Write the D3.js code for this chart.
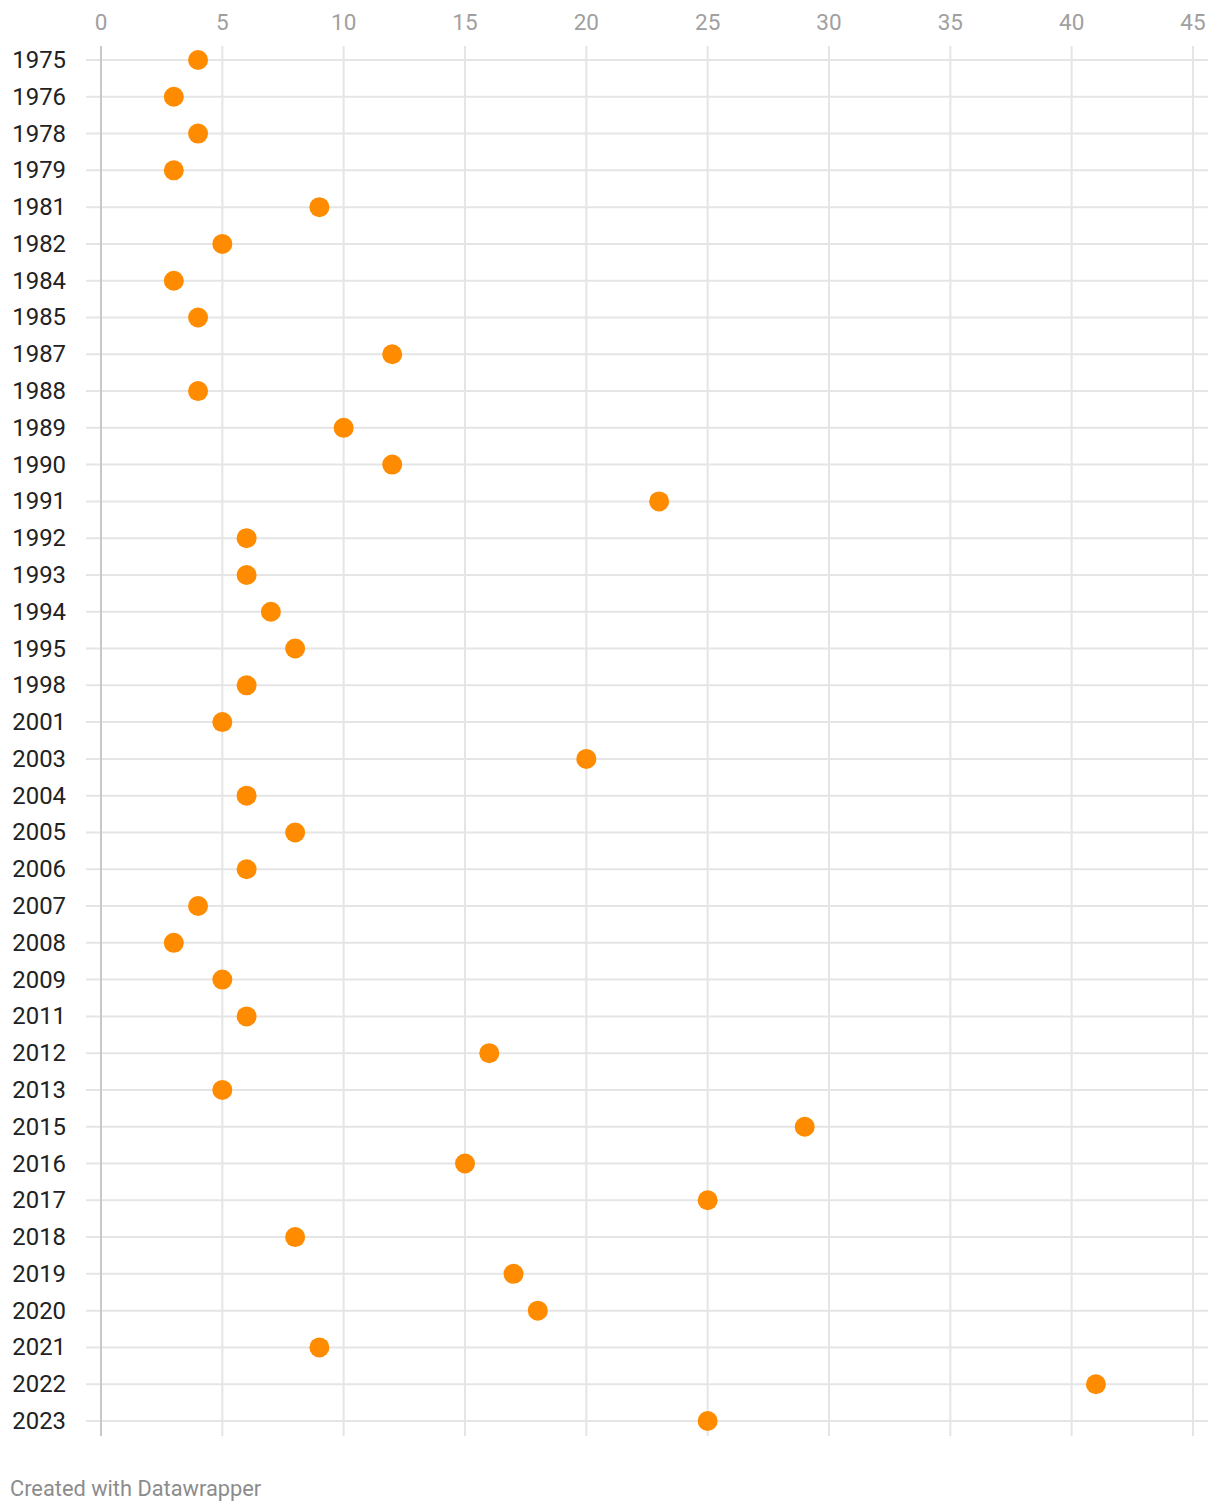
<!DOCTYPE html>
<html><head><meta charset="utf-8">
<script src="https://cdn.jsdelivr.net/npm/d3@7"></script>
<style>
body{margin:0;background:#fff;font-family:Roboto,sans-serif;}
</style></head>
<body><svg id="c" width="1220" height="1512"></svg>
<script>
const years = ["1975","1976","1978","1979","1981","1982","1984","1985","1987","1988","1989","1990","1991","1992","1993","1994","1995","1998","2001","2003","2004","2005","2006","2007","2008","2009","2011","2012","2013","2015","2016","2017","2018","2019","2020","2021","2022","2023"];
const values = [4,3,4,3,9,5,3,4,12,4,10,12,23,6,6,7,8,6,5,20,6,8,6,4,3,5,6,16,5,29,15,25,8,17,18,9,41,25];
const xTicks = [0,5,10,15,20,25,30,35,40,45];

const svg = d3.select("#c");
const x = d3.scaleLinear().domain([0,45]).range([101,1193]);
const y = d3.scalePoint().domain(years).range([60,1421]);

svg.append("g").selectAll("line").data(xTicks).join("line")
  .attr("x1",d=>x(d)).attr("x2",d=>x(d)).attr("y1",46).attr("y2",1436)
  .attr("stroke","#e5e5e5").attr("stroke-width",2);
svg.append("g").selectAll("line").data(years).join("line")
  .attr("x1",86).attr("x2",1208).attr("y1",d=>y(d)).attr("y2",d=>y(d))
  .attr("stroke","#e5e5e5").attr("stroke-width",2);
svg.append("line").attr("x1",x(0)).attr("x2",x(0)).attr("y1",46).attr("y2",1436)
  .attr("stroke","#c8c8c8").attr("stroke-width",2);
svg.append("g").selectAll("text").data(xTicks).join("text")
  .attr("x",d=>x(d)).attr("y",30).attr("text-anchor","middle")
  .attr("fill","#a0a0a0").attr("font-size",22.5).text(d=>d);
svg.append("g").selectAll("text").data(years).join("text")
  .attr("x",66).attr("y",d=>y(d)+8).attr("text-anchor","end")
  .attr("fill","#222").attr("font-size",23.9).text(d=>d);
svg.append("g").selectAll("circle").data(years).join("circle")
  .attr("cx",(d,i)=>x(values[i])).attr("cy",d=>y(d)).attr("r",10)
  .attr("fill","#ff8c00");
svg.append("text").attr("x",10).attr("y",1496).attr("fill","#8c8c8c")
  .attr("font-size",21.8).text("Created with Datawrapper");
</script></body></html>
